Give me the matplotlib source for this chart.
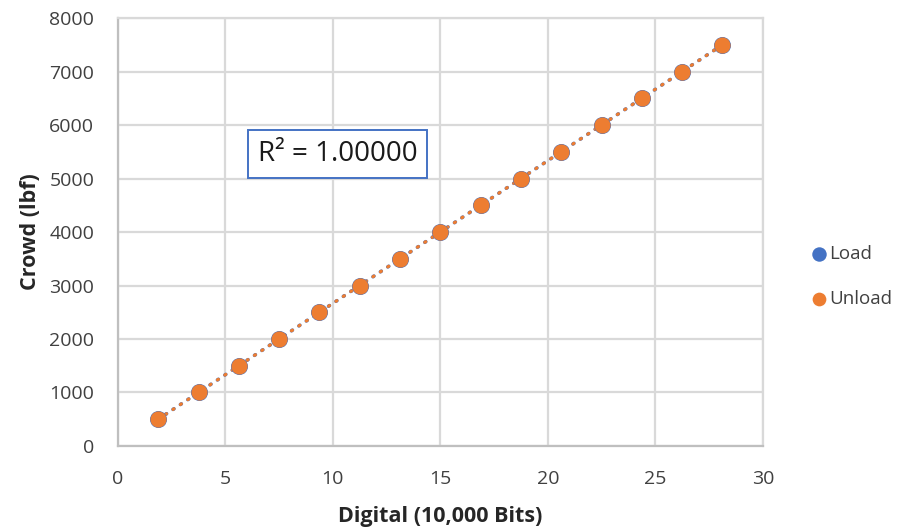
"""Crowd load cell calibration: load/unload points with linear trendlines."""

import matplotlib

matplotlib.use("Agg")
import matplotlib.pyplot as plt  # noqa: E402
import numpy as np  # noqa: E402

plt.rcParams["font.family"] = ["Open Sans", "DejaVu Sans"]
plt.rcParams["lines.scale_dashes"] = False

# calibration readings (digital in 10,000 bits vs applied crowd force in lbf)
load_digital = [1.875, 3.75, 5.625, 7.5, 9.375, 11.25, 13.125, 15.0,
                16.875, 18.75, 20.625, 22.5, 24.375, 26.25, 28.125]
load_crowd = [500, 1000, 1500, 2000, 2500, 3000, 3500, 4000,
              4500, 5000, 5500, 6000, 6500, 7000, 7500]
unload_digital = [1.875, 3.75, 5.625, 7.5, 9.375, 11.25, 13.125, 15.0,
                  16.875, 18.75, 20.625, 22.5, 24.375, 26.25, 28.125]
unload_crowd = [500, 1000, 1500, 2000, 2500, 3000, 3500, 4000,
                4500, 5000, 5500, 6000, 6500, 7000, 7500]

BLUE = "#4472C4"
ORANGE = "#ED7D31"
GRID = "#D9D9D9"

fig = plt.figure(figsize=(9.07, 5.30), dpi=100)
ax = fig.add_axes([0.130, 0.1585, 0.711, 0.8075])

# linear trendlines (dotted), drawn first so markers sit on top
for xs, ys, c, lw in [(load_digital, load_crowd, BLUE, 2.6),
                      (unload_digital, unload_crowd, ORANGE, 2.3)]:
    xs = np.asarray(xs)
    k, b = np.polyfit(xs, ys, 1)
    xx = np.array([xs.min(), xs.max()])
    ax.plot(xx, k * xx + b, color=c, lw=lw, linestyle=(0, (0.8, 5.6)),
            dash_capstyle="round", zorder=2)

ax.scatter(load_digital, load_crowd, s=150, color=BLUE, zorder=3, label="Load",
           linewidths=0)
ax.scatter(unload_digital, unload_crowd, s=135, color=ORANGE, zorder=4,
           label="Unload", linewidths=0)

ax.set_xlim(0, 30)
ax.set_ylim(0, 8000)
ax.set_xticks(np.arange(0, 31, 5))
ax.set_yticks(np.arange(0, 8001, 1000))
ax.grid(True, color=GRID, lw=1.6)
ax.set_axisbelow(True)
for s in ax.spines.values():
    s.set_color(GRID)
    s.set_linewidth(1.6)
ax.spines["left"].set_color("#BFBFBF")
ax.spines["bottom"].set_color("#BFBFBF")
ax.tick_params(length=0, labelsize=14, colors="#404040")
ax.tick_params(axis="y", pad=17)
ax.tick_params(axis="x", pad=17)

ax.set_xlabel("Digital (10,000 Bits)", fontsize=15.5, fontweight="bold",
              color="#262626", labelpad=13)
ax.set_ylabel("Crowd (lbf)", fontsize=15.5, fontweight="bold",
              color="#262626", labelpad=6)

ax.text(6.5, 5460, "R² = 1.00000", fontsize=20, color="#1a1a1a",
        ha="left", va="center", zorder=5,
        bbox=dict(boxstyle="square,pad=0.36", fc="white", ec=BLUE, lw=1.4))

leg = ax.legend(loc="upper left", bbox_to_anchor=(811 / 907, 1 - 245 / 530),
                bbox_transform=fig.transFigure, frameon=False, fontsize=13.5,
                handlelength=0.8, handletextpad=0.15, labelspacing=1.45,
                markerscale=0.85, borderaxespad=0, borderpad=0)
for t in leg.get_texts():
    t.set_color("#404040")

fig.savefig("out.png", dpi=100)
plt.close(fig)
